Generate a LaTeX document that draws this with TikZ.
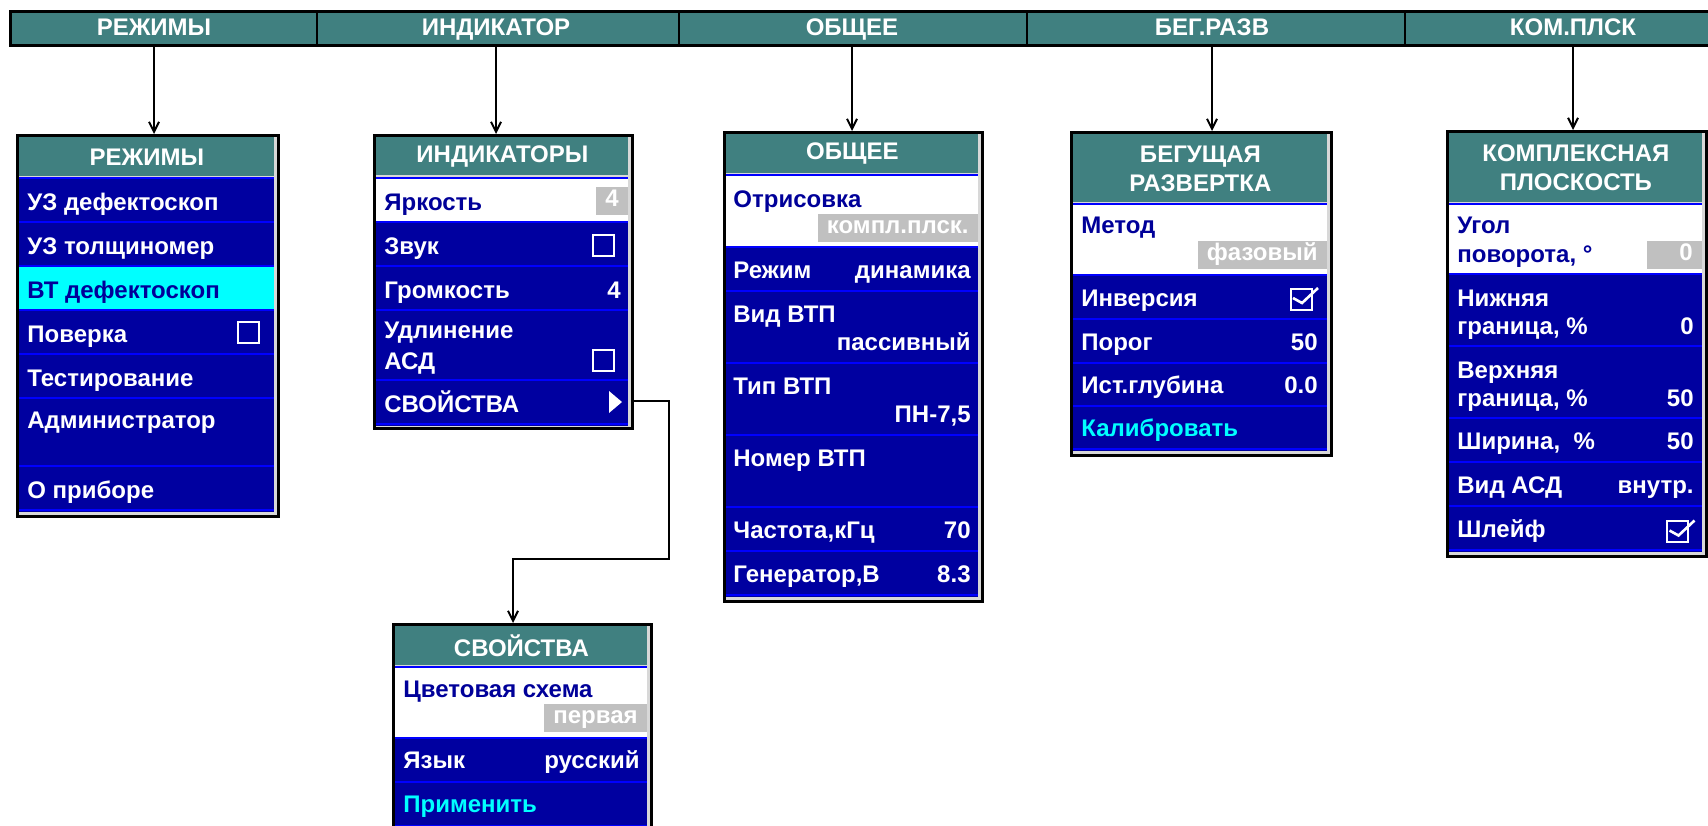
\documentclass[tikz,border=0pt]{standalone}
\usepackage{fontspec}
\setmainfont{Liberation Sans}
\usetikzlibrary{arrows.meta, calc}
\definecolor{barteal}{HTML}{408080}
\definecolor{rownavy}{HTML}{0000A0}
\definecolor{sepblue}{HTML}{0000FF}
\definecolor{selcyan}{HTML}{00FFFF}
\definecolor{textnavy}{HTML}{000099}
\definecolor{valgray}{HTML}{C0C0C0}
\definecolor{gapgray}{HTML}{D8D8D8}
\newcommand{\mfont}{\fontsize{12}{14.5}\selectfont\bfseries}
\newcommand{\tabfont}{\fontsize{12}{14}\selectfont\bfseries}
\tikzset{
  wh/.style      = {minimum width=#1*0.5pt},
  ht/.style      = {minimum height=#1*0.5pt},
  menubar/.style = {rectangle, draw=black, line width=1.5pt, fill=barteal, inner sep=0pt, anchor=north west},
  tablbl/.style  = {font=\tabfont, text=white, inner sep=0pt, anchor=base},
  frame/.style   = {rectangle, draw=black, line width=1.5pt, fill=gapgray, inner sep=0pt, anchor=north west},
  hdr/.style     = {rectangle, fill=barteal, text=white, font=\mfont, align=center, inner sep=0pt, anchor=north west},
  band/.style    = {rectangle, fill=rownavy, inner sep=0pt, anchor=north west},
  selband/.style = {band, fill=white},
  hiband/.style  = {band, fill=selcyan},
  item/.style    = {font=\mfont, text=white, inner sep=0pt, anchor=base west},
  selitem/.style = {item, text=textnavy},
  actitem/.style = {item, text=selcyan},
  val/.style     = {font=\mfont, text=white, inner sep=0pt, anchor=base east},
  valbox/.style  = {rectangle, fill=valgray, font=\mfont, text=white, inner xsep=4.5pt, inner ysep=0pt,
                    minimum height=14pt, text height=8pt, text depth=2.5pt, anchor=east},
  chkbox/.style  = {rectangle, draw=white, line width=1pt, minimum size=10.5pt, inner sep=0pt},
  tick/.style    = {draw=white, line width=1.3pt},
  sep/.style     = {draw=sepblue, line width=1.2pt},
  divider/.style = {draw=black, line width=1pt},
  arr/.style     = {draw=black, line width=1pt, -{Straight Barb[length=5pt, width=5pt]}},
}

\begin{document}
\begin{tikzpicture}[x=0.5pt, y=-0.5pt]
  \useasboundingbox (0,0) rectangle (1708,825);
  \fill[white] (0,0) rectangle (1708,825);
  \clip (0,0) rectangle (1708,825);

  % ---- top menu bar ----
  \node[menubar, wh=1710, ht=34] (bar) at (9,10) {};
  \foreach \x in {317,679,1027,1405}{\draw[divider] (\x,10) -- (\x,44);}
  \node[tablbl] (t1) at (154,35) {РЕЖИМЫ};
  \node[tablbl] (t2) at (496,35) {ИНДИКАТОР};
  \node[tablbl] (t3) at (852,35) {ОБЩЕЕ};
  \node[tablbl] (t4) at (1212,35) {БЕГ.РАЗВ};
  \node[tablbl] (t5) at (1573,35) {КОМ.ПЛСК};

  % ---- РЕЖИМЫ ----
  \node[frame, wh=261, ht=381] (fm1) at (16,134) {};
  \node[hdr, wh=255, ht=39] (h1) at (19,137) {РЕЖИМЫ};
  \node[band, wh=255, ht=334] (b1) at (19,178) {};
  \node[hiband, wh=255, ht=44] (b1hi) at (19,266) {};
  \foreach \y in {178,222,266,310,354,398,466,510}{\draw[sep] (19,\y) -- (274,\y);}
  \node[item] (m1) at (27,210) {УЗ дефектоскоп};
  \node[item] (m2) at (27,254) {УЗ толщиномер};
  \node[selitem] (m3) at (27,298) {ВТ дефектоскоп};
  \node[item] (m4) at (27,342) {Поверка};
  \node[chkbox] (m4c) at (248,332) {};
  \node[item] (m5) at (27,386) {Тестирование};
  \node[item] (m6) at (27,428) {Администратор};
  \node[item] (m7) at (27,498) {О приборе};

  % ---- ИНДИКАТОРЫ ----
  \node[frame, wh=258, ht=293] (fm2) at (373,134) {};
  \node[hdr, wh=252, ht=38] (h2) at (376,137) {ИНДИКАТОРЫ};
  \node[band, wh=252, ht=248] (b2) at (376,178) {};
  \node[selband, wh=252, ht=44] (b2sel) at (376,178) {};
  \foreach \y in {178,222,266,310,380,424}{\draw[sep] (376,\y) -- (628,\y);}
  \node[selitem] (i1) at (384,210) {Яркость};
  \node[valbox] (i1v) at (628,201) {4};
  \node[item] (i2) at (384,254) {Звук};
  \node[chkbox] (i2c) at (603.5,245) {};
  \node[item] (i3) at (384,298) {Громкость};
  \node[val] (i3v) at (621,298) {4};
  \node[item] (i4) at (384,338) {Удлинение};
  \node[item] (i4b) at (384,369) {АСД};
  \node[chkbox] (i4c) at (603.5,360) {};
  \node[item] (i5) at (384,412) {СВОЙСТВА};
  \fill[white] (609,391) -- (622,402) -- (609,413) -- cycle;

  % ---- ОБЩЕЕ ----
  \node[frame, wh=258, ht=469] (fm3) at (723,131) {};
  \node[hdr, wh=252, ht=39] (h3) at (726,134) {ОБЩЕЕ};
  \node[band, wh=252, ht=422] (b3) at (726,175) {};
  \node[selband, wh=252, ht=72] (b3sel) at (726,175) {};
  \foreach \y in {175,247,291,363,435,507,551,595}{\draw[sep] (726,\y) -- (978,\y);}
  \node[selitem] (g1) at (733,207) {Отрисовка};
  \node[valbox] (g1v) at (978,227.5) {компл.плск.};
  \node[item] (g2) at (733,278) {Режим};
  \node[val] (g2v) at (971,278) {динамика};
  \node[item] (g3) at (733,322) {Вид ВТП};
  \node[val] (g3v) at (971,350) {пассивный};
  \node[item] (g4) at (733,394) {Тип ВТП};
  \node[val] (g4v) at (971,422) {ПН-7,5};
  \node[item] (g5) at (733,466) {Номер ВТП};
  \node[item] (g6) at (733,538) {Частота,кГц};
  \node[val] (g6v) at (971,538) {70};
  \node[item] (g7) at (733,582) {Генератор,В};
  \node[val] (g7v) at (971,582) {8.3};

  % ---- БЕГУЩАЯ РАЗВЕРТКА ----
  \node[frame, wh=260, ht=323] (fm4) at (1070,131) {};
  \node[hdr, wh=254, ht=68] (h4) at (1073,134) {БЕГУЩАЯ\\РАЗВЕРТКА};
  \node[band, wh=254, ht=247] (b4) at (1073,204) {};
  \node[selband, wh=254, ht=71] (b4sel) at (1073,204) {};
  \foreach \y in {204,275,319,363,406,449}{\draw[sep] (1073,\y) -- (1327,\y);}
  \node[selitem] (s1) at (1081,233) {Метод};
  \node[valbox] (s1v) at (1327,255) {фазовый};
  \node[item] (s2) at (1081,306) {Инверсия};
  \node[chkbox] (s2c) at (1301,299) {};
  \draw[tick] (s2c.center) ++(-8,-1) -- ++(9,5) -- ++(16,-15);
  \node[item] (s3) at (1081,350) {Порог};
  \node[val] (s3v) at (1318,350) {50};
  \node[item] (s4) at (1081,393) {Ист.глубина};
  \node[val] (s4v) at (1318,393) {0.0};
  \node[actitem] (s5) at (1081,436) {Калибровать};

  % ---- КОМПЛЕКСНАЯ ПЛОСКОСТЬ ----
  \node[frame, wh=259, ht=425] (fm5) at (1446,130) {};
  \node[hdr, wh=253, ht=69] (h5) at (1449,133) {КОМПЛЕКСНАЯ\\ПЛОСКОСТЬ};
  \node[band, wh=253, ht=348] (b5) at (1449,204) {};
  \node[selband, wh=253, ht=70] (b5sel) at (1449,204) {};
  \foreach \y in {204,274,346,418,462,506,550}{\draw[sep] (1449,\y) -- (1702,\y);}
  \node[selitem] (k1) at (1457,233) {Угол};
  \node[selitem] (k1b) at (1457,262) {поворота, °};
  \node[valbox, text width=18.5pt, align=right] (k1v) at (1702,255) {0};
  \node[item] (k2) at (1457,306) {Нижняя};
  \node[item] (k2b) at (1457,334) {граница, \%};
  \node[val] (k2v) at (1694,334) {0};
  \node[item] (k3) at (1457,378) {Верхняя};
  \node[item] (k3b) at (1457,406) {граница, \%};
  \node[val] (k3v) at (1694,406) {50};
  \node[item] (k4) at (1457,449) {Ширина,\ \ \%};
  \node[val] (k4v) at (1694,449) {50};
  \node[item] (k5) at (1457,493) {Вид АСД};
  \node[val] (k5v) at (1694,493) {внутр.};
  \node[item] (k6) at (1457,537) {Шлейф};
  \node[chkbox] (k6c) at (1677.5,531.5) {};
  \draw[tick] (k6c.center) ++(-8,-1) -- ++(9,5) -- ++(16,-15);

  % ---- СВОЙСТВА ----
  \node[frame, wh=258, ht=220] (fm6) at (392,623) {};
  \node[hdr, wh=252, ht=39] (h6) at (395,626) {СВОЙСТВА};
  \node[band, wh=252, ht=200] (b6) at (395,667) {};
  \node[selband, wh=252, ht=71] (b6sel) at (395,667) {};
  \foreach \y in {667,738,782,826}{\draw[sep] (395,\y) -- (647,\y);}
  \node[selitem] (p1) at (403,697) {Цветовая схема};
  \node[valbox] (p1v) at (647,718) {первая};
  \node[item] (p2) at (403,768) {Язык};
  \node[val] (p2v) at (640,768) {русский};
  \node[actitem] (p3) at (403,812) {Применить};

  % ---- connectors ----
  \foreach \i in {1,...,5}{\draw[arr] (t\i |- bar.south) -- (t\i |- fm\i.north);}
  \coordinate (kA) at (669,559);
  \coordinate (kB) at (513,559);
  \draw[arr] (fm2.east |- i5.center) -| (kA) -- (kB) -- (kB |- fm6.north);
\end{tikzpicture}
\end{document}
